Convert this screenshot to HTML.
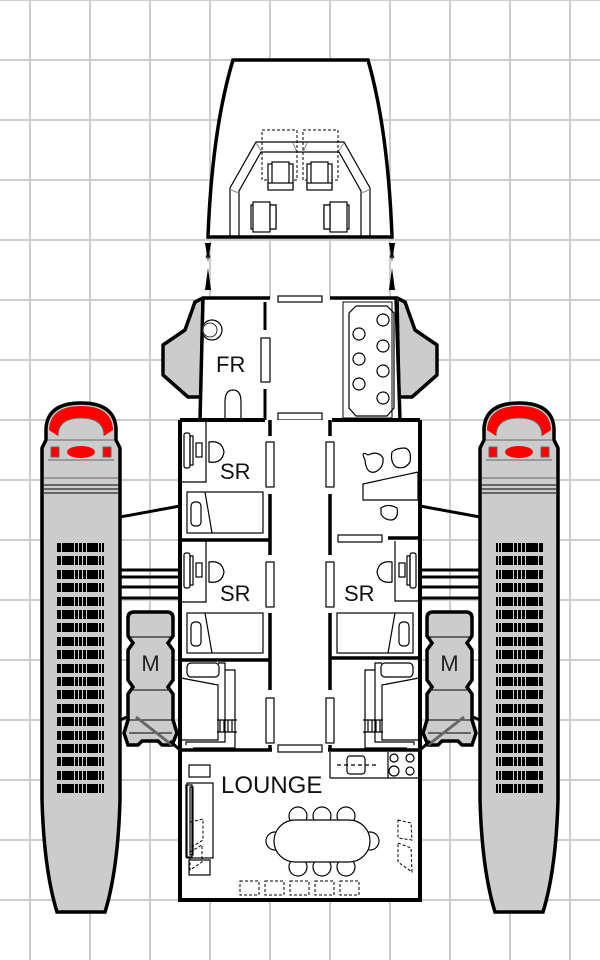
<!DOCTYPE html>
<html><head><meta charset="utf-8"><style>html,body{margin:0;padding:0;background:#fff}svg{display:block}</style></head>
<body>
<svg width="600" height="960" viewBox="0 0 600 960" xmlns="http://www.w3.org/2000/svg" font-family="Liberation Sans, sans-serif">
<defs>
<g id="grillrow">
<rect x="57" y="0" width="4" height="9" fill="#000"/>
<rect x="62" y="0" width="12" height="9" fill="#000"/>
<rect x="75" y="0" width="3" height="9" fill="#000"/>
<rect x="79" y="0" width="3" height="9" fill="#000"/>
<rect x="83" y="0" width="3" height="9" fill="#000"/>
<rect x="87" y="0" width="11" height="9" fill="#000"/>
<rect x="99" y="0" width="2" height="9" fill="#000"/>
<rect x="102" y="0" width="2" height="9" fill="#000"/>
</g>
<g id="engine">
<path d="M42,495 L42,448 Q44,444 46,440 L46,428 Q48,403 81,403 Q114,403 116,428 L116,440 Q118,444 120,448 L120,495 L120,800 Q118,870 105,912 L57,912 Q44,870 42,800 Z" fill="#cccccc" stroke="#000" stroke-width="3.5"/>
<path d="M49,430 Q50,406 81,406 Q112,406 113,430 L104,436 Q104,418 81,418 Q58,418 58,436 Z" fill="#ff0000"/>
<path d="M58,436 Q58,418 81,418 Q104,418 104,436" fill="none" stroke="#666" stroke-width="1"/>
<path d="M48,440 L114,440 M48,460 L114,460" stroke="#666" stroke-width="1"/>
<rect x="51" y="447" width="8" height="10" fill="#ff0000" stroke="#666" stroke-width="1"/>
<rect x="103" y="447" width="8" height="10" fill="#ff0000" stroke="#666" stroke-width="1"/>
<ellipse cx="81" cy="452" rx="14" ry="6" fill="#ff0000"/>
<path d="M44,485 H118 M44,489 H118 M44,493 H118" stroke="#000" stroke-width="1"/>
<path d="M44,478 H118" stroke="#666" stroke-width="1"/>
<use href="#grillrow" y="543"/><use href="#grillrow" y="556"/><use href="#grillrow" y="570"/><use href="#grillrow" y="583"/>
<use href="#grillrow" y="597"/><use href="#grillrow" y="610"/><use href="#grillrow" y="623"/><use href="#grillrow" y="637"/>
<use href="#grillrow" y="650"/><use href="#grillrow" y="664"/><use href="#grillrow" y="677"/><use href="#grillrow" y="690"/>
<use href="#grillrow" y="704"/><use href="#grillrow" y="717"/><use href="#grillrow" y="731"/><use href="#grillrow" y="744"/>
<use href="#grillrow" y="757"/><use href="#grillrow" y="771"/><use href="#grillrow" y="784"/>
<line x1="120" y1="517" x2="180" y2="506" stroke="#000" stroke-width="3"/>
<path d="M120,570 H180 M120,577 H180 M120,587 H180 M120,598 H180" stroke="#000" stroke-width="3"/>
<line x1="120" y1="720" x2="132" y2="715" stroke="#000" stroke-width="3"/>
<path d="M134,612 L167,612 Q173,612 173,618 L173,636 L168,643 L173,650 L173,680 L168,687 L173,694 L173,720 L177,733 L172,745 L162,745 L158,741 L142,741 L138,745 L128,745 L124,733 L128,720 L128,694 L133,687 L128,680 L128,650 L133,643 L128,636 L128,618 Q128,612 134,612 Z" fill="#cccccc" stroke="#000" stroke-width="3.5"/>
<path d="M129,637 H172 M129,690 H172 M129,720 H172 M129,733 H172" stroke="#000" stroke-width="1"/>
<line x1="136" y1="717" x2="172" y2="745" stroke="#666" stroke-width="3"/>
<line x1="170" y1="741" x2="180" y2="750" stroke="#000" stroke-width="3"/>
<text x="150.5" y="671" font-size="22" text-anchor="middle" fill="#222">M</text>
</g>
<g id="pod">
<path d="M203,298 L195,302 L185,330 L163,345 L163,375 L188,397 L201,397 Z" fill="#cccccc" stroke="#000" stroke-width="3.5" stroke-linejoin="round"/>
</g>
<g id="bunk">
<rect x="187" y="663" width="32" height="14" rx="4" fill="none" stroke="#000" stroke-width="1.2"/>
<path d="M181,678 L218,685 L218,740 L181,740" fill="none" stroke="#000" stroke-width="1.2"/>
<path d="M218,663 L225,663 L225,742 L186,742 L186,745" fill="none" stroke="#000" stroke-width="1.2"/>
<path d="M225,670 L235,670 L235,748 L193,748" fill="none" stroke="#000" stroke-width="1.2"/>
<path d="M217,720 H237 M217,732 H237 M220,720 V732 M224,720 V732 M228,720 V732 M232,720 V732" stroke="#000" stroke-width="1.2"/>
</g>
</defs>
<g stroke="#cccccc" stroke-width="2">
<path d="M30,0V960 M90,0V960 M150,0V960 M210,0V960 M270,0V960 M330,0V960 M390,0V960 M450,0V960 M510,0V960 M570,0V960"/>
<path d="M0,0H600 M0,60H600 M0,120H600 M0,180H600 M0,240H600 M0,300H600 M0,360H600 M0,420H600 M0,480H600 M0,540H600 M0,600H600 M0,660H600 M0,720H600 M0,780H600 M0,840H600 M0,900H600"/>
</g>

<use href="#engine"/>
<use href="#engine" transform="translate(600,0) scale(-1,1)"/>
<use href="#pod"/>
<use href="#pod" transform="translate(600,0) scale(-1,1)"/>

<path d="M233,60 L368,60 Q388,130 392,237 L208,237 Q212,130 233,60 Z" fill="#fff" stroke="#000" stroke-width="3.5"/>
<path d="M230,237 L230,188 L256,142 L344,142 L370,188 L370,237 M239,237 L239,191 L261,152 L339,152 L361,191 L361,237" fill="none" stroke="#000" stroke-width="1.2"/>
<path d="M231,190 L239,193 M256,143 L262,152 M344,143 L338,152 M369,190 L361,193 M293,143 L297,152 M307,143 L303,152" stroke="#888" stroke-width="1"/>
<rect x="262" y="130" width="35" height="50" fill="none" stroke="#000" stroke-width="1" stroke-dasharray="3,2"/>
<rect x="303" y="130" width="35" height="50" fill="none" stroke="#000" stroke-width="1" stroke-dasharray="3,2"/>
<g fill="#fff" stroke="#000" stroke-width="1.2">
<rect x="268" y="164" width="25" height="24"/><rect x="272" y="162" width="17" height="27"/><rect x="268" y="183" width="25" height="7"/>
<rect x="307" y="164" width="25" height="24"/><rect x="311" y="162" width="17" height="27"/><rect x="307" y="183" width="25" height="7"/>
<rect x="251" y="205" width="25" height="24"/><rect x="253" y="202" width="17" height="30"/><rect x="270" y="205" width="6" height="24"/>
<rect x="324" y="205" width="25" height="24"/><rect x="330" y="202" width="17" height="30"/><rect x="324" y="205" width="6" height="24"/>
</g>
<g fill="#000">
<path d="M205,243 L211,243 L208,262 Z M205,290 L211,290 L208,268 Z"/>
<path d="M389,243 L395,243 L392,262 Z M389,290 L395,290 L392,268 Z"/>
</g>
<path d="M206,246 L210,258 M210,246 L206,258 M390,246 L394,258 M394,246 L390,258" stroke="#000" stroke-width="1"/>

<rect x="202" y="298" width="196" height="122" fill="#fff"/>
<path d="M203,298 L200,420 M396,298 L400,420" stroke="#000" stroke-width="3.5"/>
<path d="M203,298 H270 M330,298 H397" stroke="#000" stroke-width="3.5"/>
<rect x="278" y="296" width="44" height="6" fill="#fff" stroke="#000" stroke-width="1.2"/>
<path d="M265,302 V330 M265,389 V420" stroke="#000" stroke-width="3"/>
<rect x="261" y="338" width="9" height="44" fill="#fff" stroke="#000" stroke-width="1.2"/>
<circle cx="212" cy="330" r="10" fill="#fff" stroke="#000" stroke-width="1.2"/>
<circle cx="210" cy="330" r="7" fill="none" stroke="#000" stroke-width="0.8"/>
<path d="M225,418 L225,402 Q225,390 233,390 Q241,390 241,402 L241,418" fill="#fff" stroke="#000" stroke-width="1.2"/>
<text x="216" y="372" font-size="22" fill="#111">FR</text>
<rect x="343" y="302" width="49" height="116" fill="none" stroke="#000" stroke-width="1"/>
<path d="M356,306 L387,306 L394,313 L394,408 L387,416 L356,416 L349,408 L349,313 Z" fill="none" stroke="#000" stroke-width="1.2"/>
<g fill="#fff" stroke="#000" stroke-width="1.2">
<circle cx="383" cy="320" r="6"/><circle cx="359" cy="334" r="6"/><circle cx="383" cy="346" r="6"/><circle cx="359" cy="359" r="6"/>
<circle cx="383" cy="371" r="6"/><circle cx="359" cy="384" r="6"/><circle cx="383" cy="398" r="6"/>
</g>
<rect x="278" y="413" width="44" height="7" fill="#fff" stroke="#000" stroke-width="1.2"/>

<rect x="180" y="420" width="240" height="480" fill="#fff"/>
<path d="M180,420 V900 H420 V420 M180,420 H265 M332,420 H420" fill="none" stroke="#000" stroke-width="4"/>
<path d="M270,420 V436 M270,494 V555 M270,613 V690 M270,745 V750 M330,420 V436 M330,494 V555 M330,613 V690 M330,745 V750" stroke="#000" stroke-width="3.5"/>
<g fill="#fff" stroke="#000" stroke-width="1.2">
<rect x="266" y="442" width="8" height="45"/><rect x="326" y="442" width="8" height="45"/>
<rect x="266" y="562" width="8" height="45"/><rect x="326" y="562" width="8" height="45"/>
<rect x="266" y="698" width="8" height="45"/><rect x="326" y="698" width="8" height="45"/>
<rect x="278" y="745" width="44" height="7"/>
<rect x="338" y="535" width="44" height="7"/>
</g>
<path d="M180,540 H270 M180,660 H270 M330,658 H420 M388,538 H420 M180,750 H272 M328,750 H420" stroke="#000" stroke-width="3.5"/>

<g fill="none" stroke="#000" stroke-width="1.2">
<path d="M180,482 H206 V420"/>
<rect x="184" y="433" width="6" height="35" rx="2"/><rect x="190" y="436" width="3" height="29"/>
<rect x="196" y="443" width="6" height="14"/>
<path d="M209,442 Q222,440 224,452 Q222,464 209,462 Z"/>
<rect x="187" y="492" width="76" height="41"/>
<path d="M205,492 L212,533"/>
<rect x="191" y="502" width="10" height="24" rx="4"/>
</g>
<text x="220" y="479" font-size="22" fill="#111">SR</text>
<g fill="none" stroke="#000" stroke-width="1.2">
<path d="M180,602 H206 V540"/>
<rect x="184" y="553" width="6" height="35" rx="2"/><rect x="190" y="556" width="3" height="29"/>
<rect x="196" y="563" width="6" height="14"/>
<path d="M209,562 Q222,560 224,572 Q222,584 209,582 Z"/>
<rect x="187" y="613" width="76" height="40"/>
<path d="M205,613 L212,653"/>
<rect x="191" y="622" width="10" height="24" rx="4"/>
</g>
<text x="220" y="601" font-size="22" fill="#111">SR</text>
<g fill="none" stroke="#000" stroke-width="1.2">
<path d="M420,601 H395 V541"/>
<rect x="410" y="553" width="6" height="35" rx="2"/><rect x="407" y="556" width="3" height="29"/>
<rect x="399" y="563" width="6" height="14"/>
<path d="M392,562 Q379,560 377,572 Q379,584 392,582 Z"/>
<rect x="337" y="613" width="76" height="40"/>
<path d="M395,613 L388,653"/>
<rect x="399" y="622" width="10" height="24" rx="4"/>
</g>
<text x="344" y="601" font-size="22" fill="#111">SR</text>
<g fill="none" stroke="#000" stroke-width="1.2">
<path d="M363,484 L418,472 L418,500 L363,500 Z"/>
<path d="M365,460 Q360,450 368,455 Q378,450 383,458 Q384,468 375,472 Q366,474 365,460 Z"/>
<path d="M392,452 Q396,448 405,448 Q412,450 410,462 Q405,470 396,467 Q390,462 392,452 Z"/>
<path d="M381,508 Q388,503 397,508 Q399,518 392,520 Q384,520 381,514 Z"/>
</g>
<use href="#bunk"/>
<use href="#bunk" transform="translate(600,0) scale(-1,1)"/>

<g fill="none" stroke="#000" stroke-width="1.2">
<rect x="189" y="765" width="21" height="12"/>
<rect x="187" y="783" width="26" height="75"/>
<rect x="186" y="785" width="6" height="72"/><rect x="190" y="787" width="3" height="68"/>
<rect x="189" y="860" width="21" height="15"/>
<path d="M330,778 V752 M330,778 H418 M388,752 V778"/>
<rect x="347" y="756" width="18" height="18" rx="3"/>
<path d="M337,765 H377" stroke-dasharray="4,3"/>
<circle cx="394" cy="758" r="4"/><circle cx="410" cy="758" r="4"/><circle cx="394" cy="771" r="5"/><circle cx="410" cy="771" r="4"/>
<circle cx="298" cy="816" r="9" fill="#fff"/><circle cx="322" cy="816" r="9" fill="#fff"/><circle cx="346" cy="816" r="9" fill="#fff"/>
<circle cx="298" cy="867" r="9" fill="#fff"/><circle cx="322" cy="867" r="9" fill="#fff"/><circle cx="346" cy="867" r="9" fill="#fff"/>
<circle cx="275" cy="841" r="9" fill="#fff"/><circle cx="370" cy="841" r="9" fill="#fff"/>
<rect x="274" y="820" width="96" height="42" rx="21" fill="#fff"/>
</g>
<g fill="none" stroke="#000" stroke-width="1" stroke-dasharray="3,2">
<rect x="240" y="881" width="19" height="14"/><rect x="265" y="881" width="19" height="14"/><rect x="290" y="881" width="19" height="14"/>
<rect x="315" y="881" width="19" height="14"/><rect x="340" y="881" width="19" height="14"/>
<path d="M398,820 L411,823 L412,840 L398,838 Z M398,843 L411,848 L412,872 L398,862 Z"/>
<path d="M190,822 L203,819 L203,840 L190,848 Z M190,852 L202,845 L202,862 L190,870 Z"/>
</g>
<text x="221" y="793" font-size="24" fill="#111">LOUNGE</text>
</svg>
</body></html>
